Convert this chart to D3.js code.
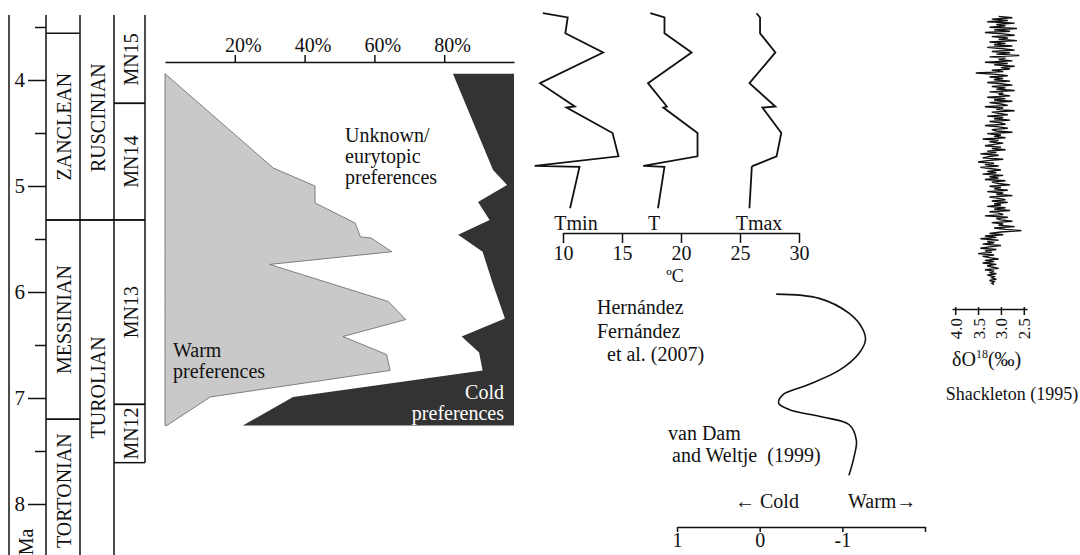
<!DOCTYPE html>
<html>
<head>
<meta charset="utf-8">
<script src="https://cdn.jsdelivr.net/npm/d3@7"></script>
<style>
  body { margin: 0; background: #fff; }
  svg text { font-family: "Liberation Serif", "Times New Roman", serif; fill: #111; }
</style>
</head>
<body>
<svg id="chart" width="1080" height="555"></svg>
<script>
// stratigraphic columns (ages in Ma)
const stageNames = ['ZANCLEAN', 'MESSINIAN', 'TORTONIAN'];
const stageTop = [3.56, 5.32, 7.20];
const stageBottom = [5.32, 7.20, 8.55];
const landAgeNames = ['RUSCINIAN', 'TUROLIAN'];
const landAgeTop = [3.39, 5.32];
const landAgeBottom = [5.32, 8.48];
const mnNames = ['MN15', 'MN14', 'MN13', 'MN12'];
const mnTop = [3.39, 4.22, 5.32, 7.06];
const mnBottom = [4.22, 5.32, 7.06, 7.61];

const ageTicks = [4, 5, 6, 7, 8];
const ageMinorTicks = [3.5, 4.5, 5.5, 6.5, 7.5];

// preference percentages
const pctTicks = [20, 40, 60, 80];
const warmAge = [3.94, 4.83, 5.00, 5.16, 5.35, 5.48, 5.49, 5.62, 5.74, 6.09, 6.26, 6.42, 6.59, 6.74, 6.99, 7.26];
const warmPct = [0, 31, 43, 43, 54.5, 56, 59, 65, 30, 64, 69, 51, 63.5, 64.5, 13, 0.5];
const coldAge = [3.94, 4.85, 4.99, 5.15, 5.32, 5.46, 5.62, 5.93, 6.25, 6.42, 6.57, 6.74, 6.99, 7.26];
const coldPct = [17.5, 6, 2, 10.3, 7, 16, 9, 6, 2.6, 15, 10, 9, 63.3, 77.7];

// temperatures, Hernandez Fernandez et al. (2007)
const tempTicks = [10, 15, 20, 25, 30];
const tempAge = [3.37, 3.41, 3.56, 3.74, 4.03, 4.25, 4.26, 4.50, 4.72, 4.81, 4.82, 5.21];
const tMin = [8.3, 10.4, 10.2, 13.4, 8.05, 11.0, 10.3, 14.2, 14.7, 7.6, 11.4, 10.6];
const tMean = [17.4, 18.6, 18.6, 20.9, 17.2, 18.8, 18.5, 21.4, 21.4, 16.8, 18.6, 18.05];
const tMax = [26.4, 26.7, 26.7, 28.0, 25.8, 28.0, 26.9, 28.5, 28.1, 26.1, 26.0, 25.8];

// van Dam and Weltje (1999)
const vdTicks = [1, 0, -1, -2];
const vdAge = [6.02, 6.06, 6.20, 6.34, 6.45, 6.58, 6.74, 6.88, 6.97, 7.05, 7.11, 7.18, 7.25, 7.40, 7.56, 7.73];
const vdVal = [-0.20, -0.72, -1.08, -1.24, -1.28, -1.20, -0.96, -0.57, -0.28, -0.23, -0.36, -0.76, -1.08, -1.17, -1.14, -1.08];

// Shackleton (1995) d18O, evenly sampled from 3.40 to 5.93 Ma
const d18oTicks = [4.0, 3.5, 3.0, 2.5];
const d18oFirstAge = 3.40;
const d18oLastAge = 5.93;
const d18oVal = [
  3.05, 2.75, 3.20, 2.85, 3.30, 2.70, 3.10, 2.90, 3.25, 2.65, 3.15, 2.80, 3.35, 2.95, 2.70, 3.20, 2.85, 3.05, 2.65, 3.25,
  2.90, 3.15, 2.75, 3.30, 2.95, 2.70, 3.20, 2.80, 3.10, 2.60, 3.25, 2.90, 3.05, 2.75, 3.35, 2.85, 3.15, 2.70, 3.00, 2.80,
  3.20, 2.95, 3.55, 3.10, 2.85, 3.25, 2.95, 3.15, 2.80, 3.30, 3.00, 2.75, 3.20, 2.90, 3.10, 2.70, 3.25, 2.95, 3.05, 2.80,
  3.30, 2.90, 3.15, 2.75, 3.25, 3.00, 2.85, 3.35, 2.95, 3.10, 2.70, 3.20, 3.05, 2.85, 3.30, 2.95, 3.15, 2.80, 3.25, 3.00,
  2.90, 3.35, 3.05, 2.85, 3.20, 3.10, 2.75, 3.30, 3.00, 3.15, 2.90, 3.40, 3.05, 3.25, 2.95, 3.15, 3.35, 3.00, 3.20, 2.90,
  3.30, 3.10, 3.45, 3.05, 3.25, 3.40, 2.95, 3.30, 3.50, 3.15, 3.35, 3.05, 3.45, 3.20, 3.00, 3.30, 3.10, 3.40, 2.95, 3.25,
  3.05, 3.35, 2.90, 3.20, 3.05, 2.80, 3.25, 3.00, 3.15, 2.85, 3.30, 2.95, 3.10, 2.75, 3.25, 3.05, 2.90, 3.20, 2.85, 3.15,
  3.00, 3.30, 2.90, 3.15, 2.80, 3.25, 3.05, 2.95, 3.35, 2.85, 3.10, 3.00, 2.75, 3.20, 2.95, 3.05, 2.70, 3.15, 2.90, 2.55,
  3.00, 3.25, 2.95, 3.35, 3.10, 3.45, 3.05, 3.30, 3.15, 3.40, 3.00, 3.25, 3.45, 3.10, 3.35, 3.20, 3.50, 3.15, 3.40, 3.25,
  3.05, 3.35, 3.15, 3.40, 3.10, 3.30, 3.20, 3.05, 3.35, 3.15, 3.25, 3.10, 3.30, 3.15, 3.20, 3.10, 3.25, 3.15, 3.20, 3.15
];

const svg = d3.select('#chart');
const FS = 20;

// shared age scale (Ma, downwards)
const y = d3.scaleLinear().domain([4, 8]).range([80, 504]);
const yTop = 15, yBottom = 555;

// ---- stratigraphic columns ----
const strat = svg.append('g').attr('stroke', '#111').attr('stroke-width', 1.5);
[9, 46, 80, 114].forEach(function (x) {
  strat.append('line').attr('x1', x).attr('x2', x).attr('y1', yTop).attr('y2', yBottom);
});
strat.append('line').attr('x1', 145).attr('x2', 145).attr('y1', yTop).attr('y2', y(mnBottom[3]));

function column(names, tops, bottoms, x0, x1) {
  names.forEach(function (name, i) {
    if (tops[i] > y.invert(yTop) + 0.01) {
      strat.append('line').attr('x1', x0).attr('x2', x1).attr('y1', y(tops[i])).attr('y2', y(tops[i]));
    }
    if (bottoms[i] < y.invert(yBottom) - 0.01) {
      strat.append('line').attr('x1', x0).attr('x2', x1).attr('y1', y(bottoms[i])).attr('y2', y(bottoms[i]));
    }
    const cy = (y(tops[i]) + y(bottoms[i])) / 2;
    svg.append('text')
      .attr('transform', 'translate(' + ((x0 + x1) / 2 + 1) + ',' + cy + ') rotate(-90)')
      .attr('text-anchor', 'middle')
      .attr('dy', '0.35em')
      .attr('font-size', FS)
      .text(name);
  });
}
column(stageNames, stageTop, stageBottom, 46, 80);
column(landAgeNames, landAgeTop, landAgeBottom, 80, 114);
column(mnNames, mnTop, mnBottom, 114, 145);

// age axis
const ageAxis = svg.append('g').attr('transform', 'translate(46,0)')
  .call(d3.axisLeft(y).tickValues(ageTicks).tickSize(18).tickPadding(3).tickFormat(d3.format('d')));
ageAxis.select('.domain').remove();
ageAxis.selectAll('line').attr('stroke', '#111').attr('stroke-width', 1.5);
ageAxis.selectAll('text').attr('font-size', 21).attr('font-family', null);
const ageMinor = svg.append('g').attr('transform', 'translate(46,0)')
  .call(d3.axisLeft(y).tickValues(ageMinorTicks).tickSize(11).tickFormat(''));
ageMinor.select('.domain').remove();
ageMinor.selectAll('line').attr('stroke', '#111').attr('stroke-width', 1.5);

svg.append('text')
  .attr('transform', 'translate(26,542) rotate(-90)')
  .attr('text-anchor', 'middle').attr('dy', '0.35em')
  .attr('font-size', FS).text('Ma');

// ---- preferences panel ----
const xPct = d3.scaleLinear().domain([0, 100]).range([165, 514]);

const warmArea = d3.area()
  .x0(function () { return xPct(0); })
  .x1(function (d, i) { return xPct(warmPct[i]); })
  .y(function (d) { return y(d); });
svg.append('path')
  .attr('d', warmArea(warmAge))
  .attr('fill', '#c9c9c9').attr('stroke', '#666').attr('stroke-width', 0.8);

const coldArea = d3.area()
  .x0(function (d, i) { return xPct(100 - coldPct[i]); })
  .x1(function () { return xPct(100); })
  .y(function (d) { return y(d); });
svg.append('path')
  .attr('d', coldArea(coldAge))
  .attr('fill', '#333');

const pctAxis = svg.append('g').attr('transform', 'translate(0,62)')
  .call(d3.axisTop(xPct).tickValues(pctTicks).tickSize(7).tickSizeOuter(0).tickPadding(3)
    .tickFormat(function (d) { return d + '%'; }));
pctAxis.select('.domain').attr('stroke', '#111').attr('stroke-width', 1.5);
pctAxis.selectAll('line').attr('stroke', '#111').attr('stroke-width', 1.5);
pctAxis.selectAll('text').attr('font-size', FS).attr('font-family', null).attr('dx', 8);

function lines(x, ys, texts, anchor, fill) {
  texts.forEach(function (t, i) {
    svg.append('text').attr('x', x).attr('y', ys[i])
      .attr('text-anchor', anchor || 'start')
      .attr('font-size', FS)
      .style('fill', fill || '#111')
      .text(t);
  });
}
lines(345, [142, 163, 184], ['Unknown/', 'eurytopic', 'preferences']);
lines(173, [357, 378], ['Warm', 'preferences']);
lines(504, [399, 420], ['Cold', 'preferences'], 'end', '#fff');

// ---- temperature panel ----
const xTemp = d3.scaleLinear().domain([10, 30]).range([563, 799]);
const tempLine = function (vals) {
  return d3.line()
    .x(function (d, i) { return xTemp(vals[i]); })
    .y(function (d) { return y(d); })(tempAge);
};
[tMin, tMean, tMax].forEach(function (vals) {
  svg.append('path').attr('d', tempLine(vals))
    .attr('fill', 'none').attr('stroke', '#111').attr('stroke-width', 1.8)
    .attr('stroke-linejoin', 'miter');
});
const tempAxis = svg.append('g').attr('transform', 'translate(0,233)')
  .call(d3.axisBottom(xTemp).tickValues(tempTicks).tickSize(10).tickSizeOuter(0).tickPadding(3));
tempAxis.select('.domain').attr('stroke', '#111').attr('stroke-width', 1.5);
tempAxis.selectAll('line').attr('stroke', '#111').attr('stroke-width', 1.5);
tempAxis.selectAll('text').attr('font-size', FS).attr('font-family', null);

svg.append('text').attr('x', 576).attr('y', 230).attr('text-anchor', 'middle').attr('font-size', FS).text('Tmin');
svg.append('text').attr('x', 654).attr('y', 230).attr('text-anchor', 'middle').attr('font-size', FS).text('T');
svg.append('text').attr('x', 759).attr('y', 230).attr('text-anchor', 'middle').attr('font-size', FS).text('Tmax');
svg.append('text').attr('x', 675).attr('y', 282).attr('text-anchor', 'middle').attr('font-size', 18).text('ºC');

svg.append('text').attr('x', 597).attr('y', 314).attr('font-size', FS).text('Hernández');
svg.append('text').attr('x', 597).attr('y', 338).attr('font-size', FS).text('Fernández');
svg.append('text').attr('x', 607).attr('y', 361).attr('font-size', FS).text('et al. (2007)');

// ---- van Dam and Weltje ----
const xVd = d3.scaleLinear().domain([1, -2]).range([677, 925]);
svg.append('path')
  .attr('d', d3.line()
    .x(function (d, i) { return xVd(vdVal[i]); })
    .y(function (d) { return y(d); })
    .curve(d3.curveCatmullRom.alpha(0.5))(vdAge))
  .attr('fill', 'none').attr('stroke', '#111').attr('stroke-width', 1.6);

const vdAxis = svg.append('g').attr('transform', 'translate(0,527)')
  .call(d3.axisBottom(xVd).tickValues(vdTicks).tickSize(5).tickSizeOuter(0).tickPadding(1)
    .tickFormat(function (d) { return d === -2 ? '' : (d < 0 ? '-' + Math.abs(d) : d); }));
vdAxis.select('.domain').attr('stroke', '#111').attr('stroke-width', 1.5);
vdAxis.selectAll('line').attr('stroke', '#111').attr('stroke-width', 1.5);
vdAxis.selectAll('text').attr('font-size', FS).attr('font-family', null);

svg.append('text').attr('x', 735).attr('y', 508).attr('font-size', FS).text('← Cold');
svg.append('text').attr('x', 848).attr('y', 508).attr('font-size', FS).text('Warm→');
svg.append('text').attr('x', 668).attr('y', 440).attr('font-size', FS).text('van Dam');
svg.append('text').attr('x', 672).attr('y', 462).attr('font-size', FS).attr('xml:space', 'preserve').text('and Weltje  (1999)');

// ---- Shackleton d18O ----
const xD = d3.scaleLinear().domain([4.07, 2.43]).range([952, 1027]);
const dAge = d3.scaleLinear().domain([0, d18oVal.length - 1]).range([d18oFirstAge, d18oLastAge]);
svg.append('path')
  .attr('d', d3.line()
    .x(function (d) { return xD(d); })
    .y(function (d, i) { return y(dAge(i)); })(d18oVal))
  .attr('fill', 'none').attr('stroke', '#111').attr('stroke-width', 1.4);

const dAxis = svg.append('g').attr('transform', 'translate(0,309)')
  .call(d3.axisBottom(xD).tickValues(d18oTicks).tickSize(6).tickSizeOuter(0)
    .tickFormat(d3.format('.1f')));
dAxis.select('.domain').attr('stroke', '#111').attr('stroke-width', 1.5);
dAxis.selectAll('line').attr('stroke', '#111').attr('stroke-width', 1.5).attr('y1', -2);
dAxis.selectAll('text')
  .attr('font-size', 17).attr('font-family', null)
  .attr('y', 0).attr('dy', '0.35em')
  .attr('text-anchor', 'end')
  .attr('transform', 'translate(0,9) rotate(-90)');

const dLabel = svg.append('text').attr('x', 952).attr('y', 366).attr('font-size', FS);
dLabel.append('tspan').text('δO');
dLabel.append('tspan').attr('font-size', 12).attr('dy', -8).text('18');
dLabel.append('tspan').attr('dy', 8).text('(‰)');

svg.append('text').attr('x', 1012).attr('y', 400).attr('text-anchor', 'middle').attr('font-size', 18).text('Shackleton (1995)');
</script>
</body>
</html>
